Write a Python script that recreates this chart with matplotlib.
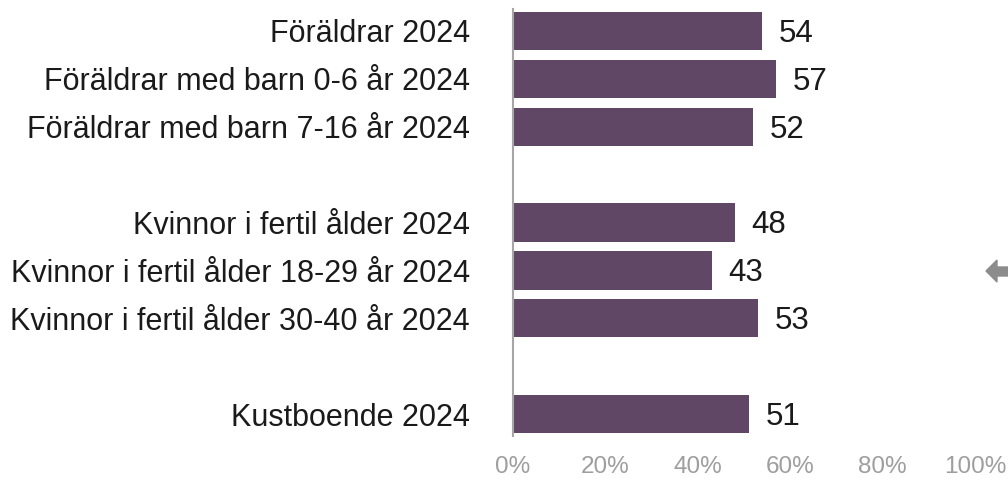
import numpy as np
import matplotlib.pyplot as plt
from matplotlib.patches import Polygon

plt.rcParams['font.family'] = ['Liberation Sans', 'DejaVu Sans']

labels = ["Föräldrar 2024",
          "Föräldrar med barn 0-6 år 2024",
          "Föräldrar med barn 7-16 år 2024",
          "Kvinnor i fertil ålder 2024",
          "Kvinnor i fertil ålder 18-29 år 2024",
          "Kvinnor i fertil ålder 30-40 år 2024",
          "Kustboende 2024"]
values = [54, 57, 52, 48, 43, 53, 51]
group_sizes = [3, 3, 1]
xticks = [0, 20, 40, 60, 80, 100]

# positions with one empty slot between groups
positions = []
pos = 0
for g in group_sizes:
    for i in range(g):
        positions.append(pos)
        pos += 1
    pos += 1
positions = np.array(positions)

W, H = 1008, 479
fig = plt.figure(figsize=(W / 100, H / 100), dpi=100)
ax = fig.add_axes([513 / W, 1 - 435.6 / H, 462 / W, 426.2 / H])

bar_color = '#614766'
ax.barh(positions, values, height=0.8, color=bar_color)
for p, v in zip(positions, values):
    ax.text(v + 3.6, p + 0.06, str(v), va='center', ha='left', fontsize=22.5, color='#1a1a1a')

ax.set_xlim(0, 100)
ax.set_ylim(positions.max() + 0.45, -0.45)
ax.set_yticks(positions)
ax.set_yticklabels(labels, fontsize=22, color='#1a1a1a')
ax.set_xticks(xticks)
ax.set_xticklabels([f"{t}%" for t in xticks], fontsize=17.5, color='#9e9e9e')
ax.tick_params(axis='y', length=0, pad=31)
ax.tick_params(axis='x', length=0, pad=15)

for s in ['top', 'right', 'bottom']:
    ax.spines[s].set_visible(False)
ax.spines['left'].set_color('#a6a6a6')
ax.spines['left'].set_linewidth(1.5)

# gray arrow partially visible at the right edge
arrow_px = [(986, 271), (997, 260), (997, 267), (1008, 267), (1008, 276), (997, 276), (997, 282)]
arrow = Polygon([(x / W, 1 - y / H) for x, y in arrow_px], closed=True,
                transform=fig.transFigure, color='#8c8c8c')
fig.patches.append(arrow)

plt.savefig('out.png', dpi=100)
